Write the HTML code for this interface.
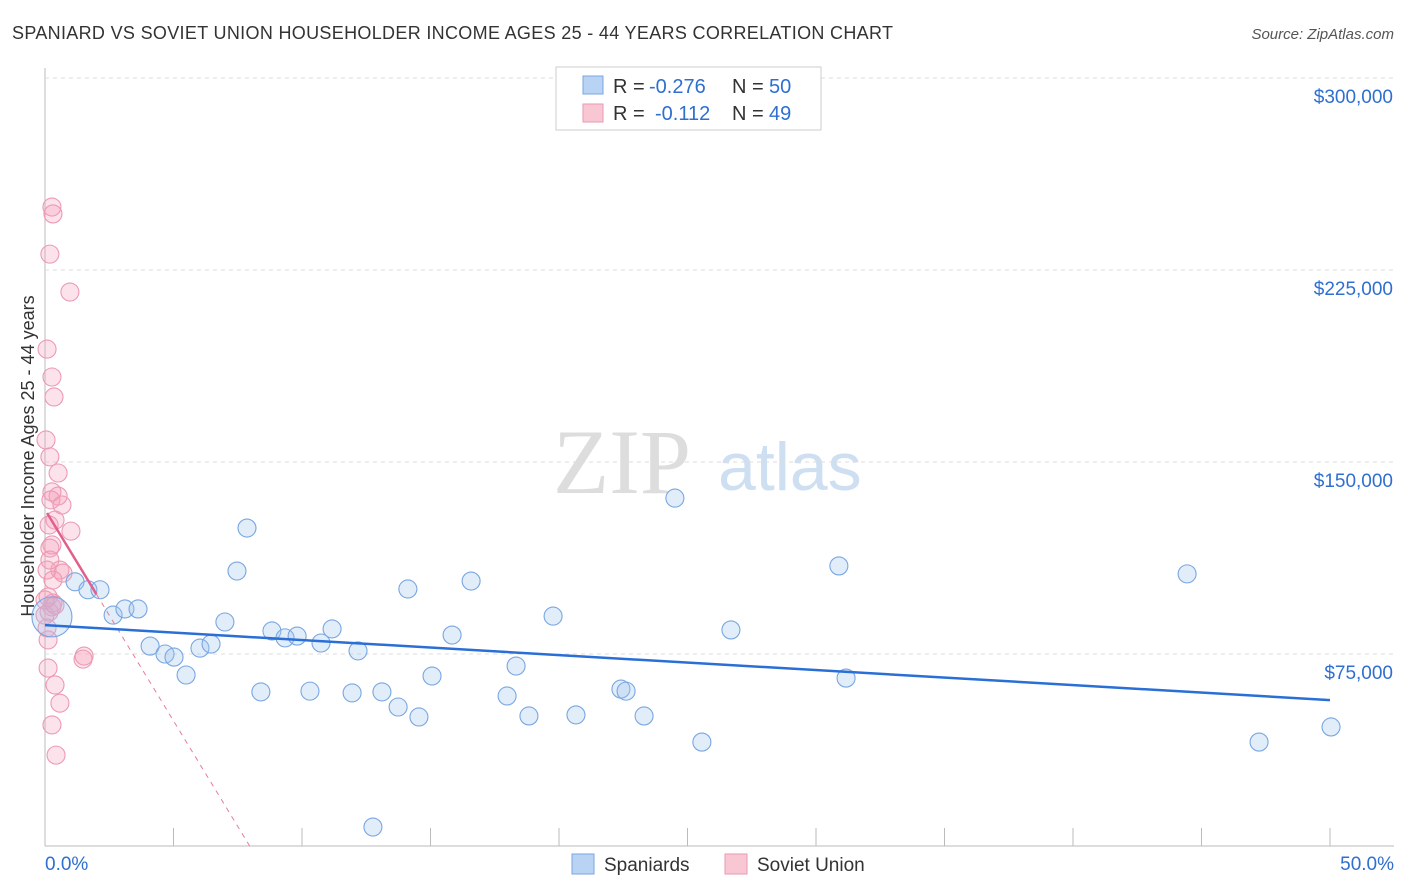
<!DOCTYPE html>
<html><head><meta charset="utf-8"><style>
body{margin:0;background:#fff;font-family:"Liberation Sans",sans-serif;}
svg{display:block}
</style></head><body>
<svg id="c" width="1406" height="892">
<text x="12" y="39" font-size="18" fill="#333" textLength="881">SPANIARD VS SOVIET UNION HOUSEHOLDER INCOME AGES 25 - 44 YEARS CORRELATION CHART</text>
<text x="1394" y="39" font-size="15" fill="#555" text-anchor="end" font-style="italic">Source: ZipAtlas.com</text>
<text x="0" y="0" transform="translate(34,456) rotate(-90)" font-size="18" fill="#333" text-anchor="middle">Householder Income Ages 25 - 44 years</text>
<g>
<text x="553" y="493" font-size="92" font-family="Liberation Serif,serif" fill="#ddd">ZIP</text>
<text x="718" y="490" font-size="68" fill="#cfdff2">atlas</text>
</g>
<g id="grid"></g><g id="marks"></g>
<g>
<rect x="556" y="67" width="265" height="63" fill="#fff" stroke="#ccc"/>
<rect x="583" y="76" width="20" height="18" fill="#b9d3f5" stroke="#7aa5e0"/>
<rect x="583" y="104" width="20" height="18" fill="#f9c6d4" stroke="#e99ab2"/>
<text x="613" y="93" font-size="20" fill="#333">R =</text>
<text x="649" y="93" font-size="20" fill="#2f6fd0">-0.276</text>
<text x="732" y="93" font-size="20" fill="#333">N =</text>
<text x="769" y="93" font-size="20" fill="#2f6fd0">50</text>
<text x="613" y="120" font-size="20" fill="#333">R =</text>
<text x="655" y="120" font-size="20" fill="#2f6fd0">-0.112</text>
<text x="732" y="120" font-size="20" fill="#333">N =</text>
<text x="769" y="120" font-size="20" fill="#2f6fd0">49</text>
</g>
<g>
<rect x="572" y="854" width="22" height="20" fill="#b9d3f5" stroke="#7aa5e0"/>
<text x="604" y="871" font-size="19" fill="#333">Spaniards</text>
<rect x="725" y="854" width="22" height="20" fill="#f9c6d4" stroke="#e99ab2"/>
<text x="757" y="871" font-size="19" fill="#333">Soviet Union</text>
</g>
<text x="45" y="870" font-size="19" fill="#2f6fd0">0.0%</text>
<text x="1394" y="870" font-size="19" fill="#2f6fd0" text-anchor="end">50.0%</text>
</svg>
<script>
const yTicks=[75000,150000,225000,300000];
const yTickLabels=["$75,000","$150,000","$225,000","$300,000"];
const xTicks=[5,10,15,20,25,30,35,40,45,50];
const blueX=[0.27,1.17,1.67,2.14,2.65,3.11,3.62,4.09,4.67,5.02,5.49,6.03,6.46,7.0,7.47,7.86,8.4,8.83,9.34,9.81,10.31,10.74,11.17,11.95,12.18,13.11,13.74,14.12,14.55,15.06,15.84,16.58,17.98,18.33,18.83,19.77,20.66,22.41,22.61,23.31,24.51,25.56,26.69,30.89,31.17,44.44,47.24,50.04,12.76];
const blueY=[89500,103200,100100,100100,90200,92600,92600,78100,75000,73800,66800,77300,78900,87500,107400,124200,60200,84000,81300,82000,60500,79300,84800,59800,76200,60200,54300,100400,50400,66400,82400,103500,58600,70300,50800,89800,51200,61300,60500,50800,135900,40600,84400,109400,65600,106300,40600,46500,7400];
const pinkX=[0.27,0.31,0.19,0.97,0.08,0.27,0.35,0.04,0.19,0.51,0.51,0.27,0.23,0.39,0.16,0.27,0.19,1.01,0.08,0.58,0.7,0.31,0.12,0.31,0.27,0.16,0.08,0.12,1.52,1.48,0.12,0.39,0.58,0.27,0.43,0.0,0.0,0.39,0.19,0.66];
const pinkY=[249600,246900,231200,216400,194100,183200,175400,158600,152000,145700,136700,138300,135200,127300,125400,117600,116400,123000,107800,107800,106600,103900,97300,94900,93400,91400,85200,80500,74200,73000,69500,62900,55800,47300,35500,96100,90200,94100,111700,133200];
const blueTrend=[86300,-586];
const pinkTrend=[131400,-16500];
const X=p=>45+p*25.7, Y=v=>846-v*192/75000;
const NS="http://www.w3.org/2000/svg";
const g=document.getElementById('grid'), m=document.getElementById('marks');
function mk(par,t,a){const e=document.createElementNS(NS,t);for(const k in a)e.setAttribute(k,a[k]);par.appendChild(e);return e;}
let e=mk(g,'line',{x1:45,y1:68,x2:45,y2:846,stroke:'#bbb'});


e=mk(g,'line',{x1:45,y1:846,x2:1394,y2:846,stroke:'#bbb'});


yTicks.forEach((v,i)=>{
 e=mk(g,'line',{x1:45,y1:Y(v),x2:1394,y2:Y(v),stroke:'#ddd','stroke-dasharray':'4,4'});
 
 
 e=mk(g,'text',{x:1393,y:Y(v)+25,'font-size':19,fill:'#2f6fd0','text-anchor':'end'});
 e.textContent=yTickLabels[i];
 
 
});
xTicks.forEach(p=>{
 e=mk(g,'line',{x1:X(p),y1:828,x2:X(p),y2:846,stroke:'#bbb'});
 
 
});
pinkX.forEach((p,i)=>{
 e=mk(m,'circle',{cx:X(p),cy:Y(pinkY[i]),r:9,fill:'rgba(244,160,185,0.3)',stroke:'#ec9ab3','stroke-width':1.1});
 
 
});
blueX.forEach((p,i)=>{
 e=mk(m,'circle',{cx:X(p),cy:Y(blueY[i]),r:i==0?20:9,fill:'rgba(160,195,240,0.3)',stroke:'#78a6e2','stroke-width':1.1});
 
 
});
const pz=-pinkTrend[0]/pinkTrend[1];
e=mk(m,'line',{x1:X(2),y1:Y(pinkTrend[0]+2*pinkTrend[1]),x2:X(pz),y2:Y(0),stroke:'#e87b9c','stroke-width':1,'stroke-dasharray':'5,5'});


e=mk(m,'line',{x1:X(0.08),y1:Y(pinkTrend[0]+0.08*pinkTrend[1]),x2:X(2),y2:Y(pinkTrend[0]+2*pinkTrend[1]),stroke:'#e0608a','stroke-width':2.5});


e=mk(m,'line',{x1:X(0),y1:Y(blueTrend[0]),x2:X(50),y2:Y(blueTrend[0]+50*blueTrend[1]),stroke:'#2a6fd6','stroke-width':2.5});


</script>
</body></html>
